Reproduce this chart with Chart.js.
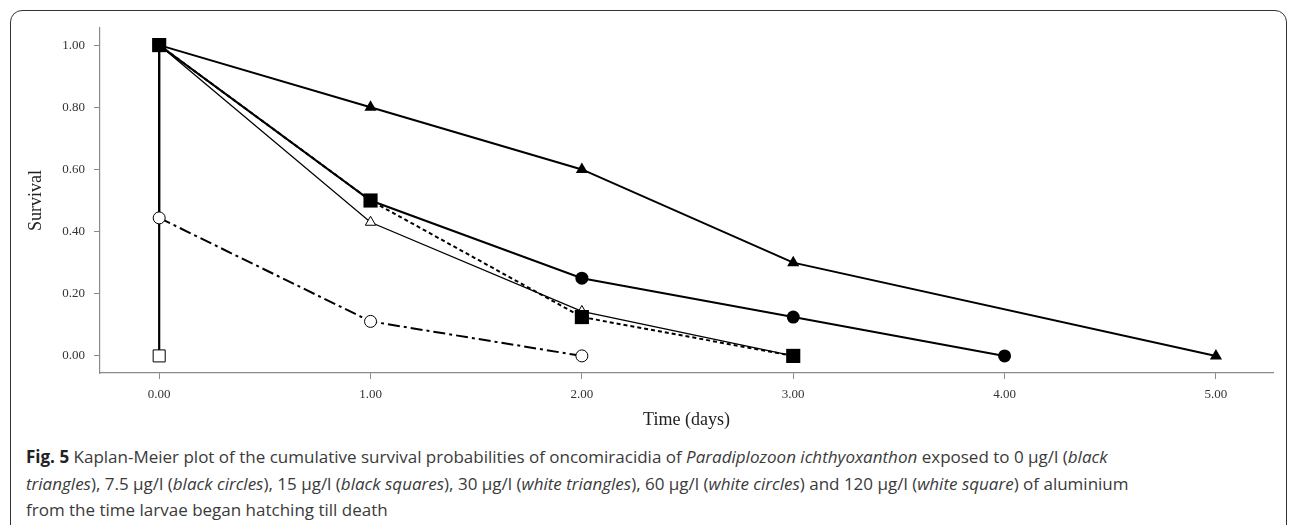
<!DOCTYPE html>
<html>
<head>
<meta charset="utf-8">
<script src="https://cdn.jsdelivr.net/npm/chart.js@4"></script>
<style>
  html, body { margin: 0; padding: 0; background: #fff; }
  body { width: 1293px; height: 525px; position: relative; overflow: hidden; }
  .frame {
    position: absolute; left: 10px; top: 10px; width: 1277px; height: 530px;
    border: 1.5px solid #333; border-radius: 12px; box-sizing: border-box;
  }
  #wrap { position: absolute; left: 0; top: 0; width: 1293px; height: 431px; }
  .caption {
    position: absolute; left: 26px; top: 444px; width: 1260px;
    font-family: "Open Sans", sans-serif; font-size: 17px; line-height: 26.5px; color: #3a3a3a;
  }
  .caption b { color: #222; }
</style>
</head>
<body>
<div class="frame"></div>
<div id="wrap"><canvas id="kmChart"></canvas></div>
<div class="caption"><b>Fig. 5</b> Kaplan-Meier plot of the cumulative survival probabilities of oncomiracidia of <i>Paradiplozoon ichthyoxanthon</i> exposed to 0 µg/l (<i>black<br>triangles</i>), 7.5 µg/l (<i>black circles</i>), 15 µg/l (<i>black squares</i>), 30 µg/l (<i>white triangles</i>), 60 µg/l (<i>white circles</i>) and 120 µg/l (<i>white square</i>) of aluminium<br>from the time larvae began hatching till death</div>

<script>
// survival data (time in days)
const days0 = [0, 1, 2, 3, 5];
const surv0 = [1.0, 0.8, 0.6, 0.3, 0.0];        // 0 µg/l, black triangles

const days7 = [0, 1, 2, 3, 4];
const surv7 = [1.0, 0.5, 0.25, 0.125, 0.0];      // 7.5 µg/l, black circles

const days15 = [0, 1, 2, 3];
const surv15 = [1.0, 0.5, 0.125, 0.0];           // 15 µg/l, black squares

const days30 = [0, 1, 2, 3];
const surv30 = [1.0, 0.43, 0.143, 0.0];          // 30 µg/l, white triangles

const days60 = [0, 0, 1, 2];
const surv60 = [1.0, 0.444, 0.111, 0.0];         // 60 µg/l, white circles

const days120 = [0, 0];
const surv120 = [1.0, 0.0];                      // 120 µg/l, white square

const xTicks = [0, 1, 2, 3, 4, 5];
const yTicks = [0, 0.2, 0.4, 0.6, 0.8, 1.0];

function toPoints(xs, ys) {
    return xs.map(function(x, i) { return { x: x, y: ys[i] }; });
}

const axisGray = '#8a8a8a';
const serif = '"Liberation Serif", "DejaVu Serif", serif';
const tickFont = { family: serif, size: 13 };

// first dataset is drawn on top
const datasets = [
    {
        label: '15 µg/l',
        data: toPoints(days15, surv15),
        borderColor: '#000', backgroundColor: '#000',
        borderWidth: 2, borderDash: [4, 3],
        pointStyle: 'rect', pointRadius: 10, pointBorderWidth: 0
    },
    {
        label: '0 µg/l',
        data: toPoints(days0, surv0),
        borderColor: '#000', backgroundColor: '#000',
        borderWidth: 2,
        pointStyle: 'triangle', pointRadius: 7, pointBorderWidth: 0
    },
    {
        label: '7.5 µg/l',
        data: toPoints(days7, surv7),
        borderColor: '#000', backgroundColor: '#000',
        borderWidth: 2,
        pointStyle: 'circle', pointRadius: 6.5, pointBorderWidth: 0
    },
    {
        label: '30 µg/l',
        data: toPoints(days30, surv30),
        borderColor: '#000', backgroundColor: '#fff',
        borderWidth: 1.3,
        pointStyle: 'triangle', pointRadius: 6, pointBorderWidth: 1
    },
    {
        label: '60 µg/l',
        data: toPoints(days60, surv60),
        borderColor: '#000', backgroundColor: '#fff',
        borderWidth: 2,
        segment: {
            // vertical drop at day 0 is solid, the rest dash-dot
            borderDash: function(ctx) { return ctx.p0.parsed.x === ctx.p1.parsed.x ? [] : [12, 4, 3, 4]; }
        },
        pointStyle: 'circle', pointRadius: [0, 6, 6, 6], pointBorderWidth: 1
    },
    {
        label: '120 µg/l',
        data: toPoints(days120, surv120),
        borderColor: '#000', backgroundColor: '#fff',
        borderWidth: 2.2,
        pointStyle: 'rect', pointRadius: [0, 8.5], pointBorderWidth: 1
    }
];

new Chart(document.getElementById('kmChart'), {
    type: 'scatter',
    data: { datasets: datasets.map(function(d) { return Object.assign({ showLine: true, tension: 0, clip: false }, d); }) },
    options: {
        responsive: true,
        maintainAspectRatio: false,
        animation: false,
        layout: { padding: { left: 10, right: 20, top: 28, bottom: 0 } },
        plugins: {
            legend: { display: false },
            tooltip: { enabled: false }
        },
        scales: {
            x: {
                type: 'linear',
                min: -0.28, max: 5.27,
                afterBuildTicks: function(scale) {
                    scale.ticks = xTicks.map(function(v) { return { value: v }; });
                },
                afterFit: function(scale) { scale.height = 58; },
                ticks: {
                    color: '#333', font: tickFont, padding: 8,
                    callback: function(v) { return Number(v).toFixed(2); }
                },
                grid: { drawOnChartArea: false, drawTicks: true, tickLength: 6, color: axisGray },
                border: { color: axisGray, width: 1.2 },
                title: {
                    display: true, text: 'Time (days)', color: '#222',
                    font: { family: serif, size: 18 },
                    padding: { top: 0, bottom: 0 }
                }
            },
            y: {
                type: 'linear',
                min: -0.055, max: 1.055,
                afterBuildTicks: function(scale) {
                    scale.ticks = yTicks.map(function(v) { return { value: v }; });
                },
                afterFit: function(scale) { scale.width = 90; },
                ticks: {
                    color: '#333', font: tickFont, padding: 9,
                    callback: function(v) { return Number(v).toFixed(2); }
                },
                grid: { drawOnChartArea: false, drawTicks: true, tickLength: 6, color: axisGray },
                border: { color: axisGray, width: 1.2 },
                title: {
                    display: true, text: 'Survival', color: '#222',
                    font: { family: serif, size: 18 },
                    padding: { top: 15, bottom: 0 }
                }
            }
        }
    }
});
</script>
</body>
</html>
